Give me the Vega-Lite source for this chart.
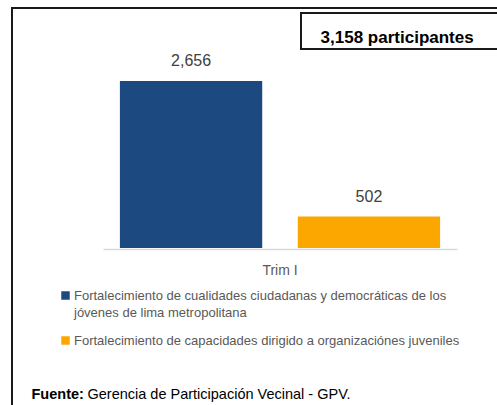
{
  "$schema": "https://vega.github.io/schema/vega-lite/v6.json",
  "width": 490,
  "height": 403,
  "autosize": {"type": "none"},
  "padding": {"left": 12, "top": 8, "right": 0, "bottom": 0},
  "background": "white",
  "config": {
    "view": {"stroke": "#1a1a1a", "strokeWidth": 2},
    "font": "Liberation Sans Narrow, Arial Narrow, Liberation Sans, sans-serif",
    "legend": {"strokeWidth": 2, "padding": 0},
    "style": {"guide-label": {"lineHeight": 17}}
  },
  "resolve": {"scale": {"shape": "independent"}, "legend": {"shape": "independent"}},
  "layer": [
    {
      "data": {
        "values": [
          {"trimestre": "Trim I", "programa": "Fortalecimiento de cualidades ciudadanas y democráticas de los jóvenes de lima metropolitana", "participantes": 2656},
          {"trimestre": "Trim I", "programa": "Fortalecimiento de capacidades dirigido a organizaciónes juveniles", "participantes": 502}
        ]
      },
      "encoding": {
        "x": {
          "field": "trimestre", "type": "nominal",
          "scale": {"range": [91, 445], "paddingInner": 0, "paddingOuter": 0},
          "axis": {"orient": "bottom", "offset": -162, "title": null, "domainColor": "#d9d9d9", "domainWidth": 1.5, "ticks": false, "tickSize": 0, "labelPadding": 25, "labelBaseline": "alphabetic", "labelFontSize": 14, "labelColor": "#595959", "labelAngle": 0, "grid": false}
        },
        "xOffset": {"field": "programa", "type": "nominal", "sort": null, "scale": {"paddingInner": 0.2, "paddingOuter": 0.095}},
        "y": {"field": "participantes", "type": "quantitative", "scale": {"domain": [0, 3817], "range": [240, 0], "nice": false, "zero": true}, "axis": null}
      },
      "layer": [
        {
          "mark": {"type": "bar"},
          "encoding": {
            "color": {
              "field": "programa", "type": "nominal", "sort": null,
              "scale": {"range": ["#1c4a80", "#fca600"]},
              "legend": {
                "orient": "none", "legendX": 47, "legendY": 281, "title": null,
                "symbolType": "square", "symbolSize": 72, "symbolStrokeWidth": 0,
                "labelOffset": 2, "labelFontSize": 13, "labelColor": "#595959", "labelLimit": 600,
                "rowPadding": 14,
                "labelExpr": "datum.label == 'Fortalecimiento de cualidades ciudadanas y democráticas de los jóvenes de lima metropolitana' ? ['Fortalecimiento de cualidades ciudadanas y democráticas de los', 'jóvenes de lima metropolitana'] : datum.label"
              }
            }
          }
        },
        {
          "mark": {"type": "text", "dy": -14.5, "baseline": "alphabetic", "fontSize": 16, "color": "#404040"},
          "encoding": {"text": {"field": "participantes", "type": "quantitative", "format": ",d"}}
        }
      ]
    },
    {
      "data": {"values": [{"total": "3,158 participantes"}]},
      "mark": {"type": "point", "opacity": 0},
      "encoding": {
        "shape": {
          "field": "total", "type": "nominal",
          "scale": {"domain": ["3,158 participantes", ""], "range": ["square", "square"]},
          "legend": {
            "orient": "none", "legendX": 289, "legendY": 5, "title": null, "direction": "horizontal", "columnPadding": 10,
            "strokeColor": "#1a1a1a", "fillColor": "white", "padding": 2.9,
            "symbolSize": 697, "symbolOpacity": 0, "symbolStrokeWidth": 0,
            "labelOffset": -10.3, "labelBaseline": "top", "labelFontSize": 17, "labelFontWeight": "bold", "labelColor": "#000000", "labelLimit": 600
          }
        }
      }
    },
    {
      "data": {"values": [{"fuente": "Fuente:"}]},
      "mark": {"type": "point", "opacity": 0},
      "encoding": {
        "shape": {
          "field": "fuente", "type": "nominal",
          "scale": {"range": ["square"]},
          "legend": {
            "orient": "none", "legendX": 5, "legendY": 372.5, "title": null,
            "symbolSize": 0, "symbolOpacity": 0, "symbolStrokeWidth": 0, "labelOffset": 0, "labelBaseline": "top",
            "labelFontSize": 14.5, "labelFontWeight": "bold", "labelColor": "#000000", "labelLimit": 600
          }
        }
      }
    },
    {
      "data": {"values": [{"origen": "Gerencia de Participación Vecinal - GPV."}]},
      "mark": {"type": "point", "opacity": 0},
      "encoding": {
        "shape": {
          "field": "origen", "type": "nominal",
          "scale": {"range": ["square"]},
          "legend": {
            "orient": "none", "legendX": 61, "legendY": 372.5, "title": null,
            "symbolSize": 0, "symbolOpacity": 0, "symbolStrokeWidth": 0, "labelOffset": 0, "labelBaseline": "top",
            "labelFontSize": 14.5, "labelColor": "#000000", "labelLimit": 600
          }
        }
      }
    }
  ]
}
